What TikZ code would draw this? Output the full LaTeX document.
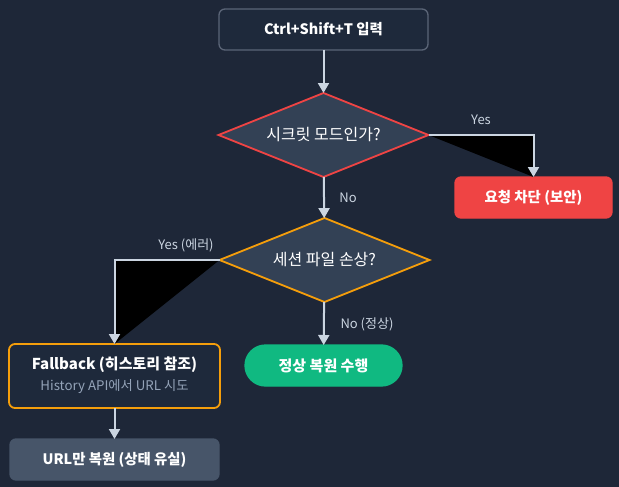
\documentclass[tikz,border=0pt]{standalone}
\usepackage{fontspec}
\setmainfont{Noto Sans CJK KR}
\usetikzlibrary{shapes.geometric,arrows.meta}
\definecolor{bg}{HTML}{1E2738}
\definecolor{boxfill}{HTML}{1E293B}
\definecolor{boxedge}{HTML}{5B6577}
\definecolor{diafill}{HTML}{334155}
\definecolor{redc}{HTML}{EF4444}
\definecolor{orangec}{HTML}{F59E0B}
\definecolor{greenc}{HTML}{10B981}
\definecolor{grayc}{HTML}{475569}
\definecolor{arrowc}{HTML}{CBD5E1}
\definecolor{subc}{HTML}{94A3B8}
\tikzset{
  every node/.style={inner sep=0pt, outer sep=0pt},
  boxnode/.style={rectangle, rounded corners=6pt, text=white, font=\bfseries\fontsize{14.4}{17}\selectfont, line width=1.3pt},
  dianode/.style={diamond, aspect=2.5, minimum width=210pt, minimum height=84pt, fill=diafill, line width=1.8pt, text=white, font=\fontsize{16}{19}\selectfont},
  conn/.style={draw=arrowc, line width=2pt, -{Triangle[width=11pt,length=10pt]}},
  lbl/.style={text=arrowc, font=\fontsize{13}{15}\selectfont},
}
\begin{document}
\begin{tikzpicture}[x=1pt,y=-1pt]
\fill[bg] (0,0) rectangle (619,487);
\useasboundingbox (0,0) rectangle (619,487);

\node[boxnode, draw=boxedge, fill=boxfill, minimum width=209pt, minimum height=41pt] (start) at (323.5,29.5) {Ctrl+Shift+T 입력};
\node[boxnode, fill=redc, draw=redc, minimum width=157pt, minimum height=41pt] (block) at (533.5,197.5) {요청 차단 (보안)};
\node[boxnode, draw=orangec, fill=boxfill, minimum width=211pt, minimum height=64pt, line width=1.8pt] (fb) at (114.5,376) {};
\node[boxnode, fill=greenc, draw=greenc, rounded corners=20.5pt, minimum width=157pt, minimum height=41pt, font=\bfseries\fontsize{15}{18}\selectfont] (ok) at (323.5,365.5) {정상 복원 수행};
\node[boxnode, fill=grayc, draw=grayc, minimum width=209pt, minimum height=41pt] (url) at (114.5,459.5) {URL만 복원 (상태 유실)};
\node[text=white, font=\bfseries\fontsize{15}{18}\selectfont] (fbt) at (114.5,365) {Fallback (히스토리 참조)};
\node[text=subc, font=\fontsize{13.3}{16}\selectfont] (fbs) at (114.5,387) {History API에서 URL 시도};

\node[dianode, draw=redc] (d1) at (323.5,135) {시크릿 모드인가?};
\node[dianode, draw=orangec] (d2) at (324.5,260) {세션 파일 손상?};

\fill[black] (d1.east) -| (block.north);
\fill[black] (d2.west) -| (fb.north);
\draw[conn] (start) -- (d1);
\draw[conn] (d1.east) -| (block.north);
\draw[conn] (d1) -- (d2);
\draw[conn] (d2.west) -| (fb.north);
\draw[conn] (d2) -- (ok);
\draw[conn] (fb) -- (url);

\node[lbl] (lyes) at (481,120) {Yes};
\node[lbl] (lno) at (348,198) {No};
\node[lbl] (lyes2) at (186,245) {Yes (에러)};
\node[lbl] (lno2) at (367,324) {No (정상)};
\end{tikzpicture}
\end{document}
